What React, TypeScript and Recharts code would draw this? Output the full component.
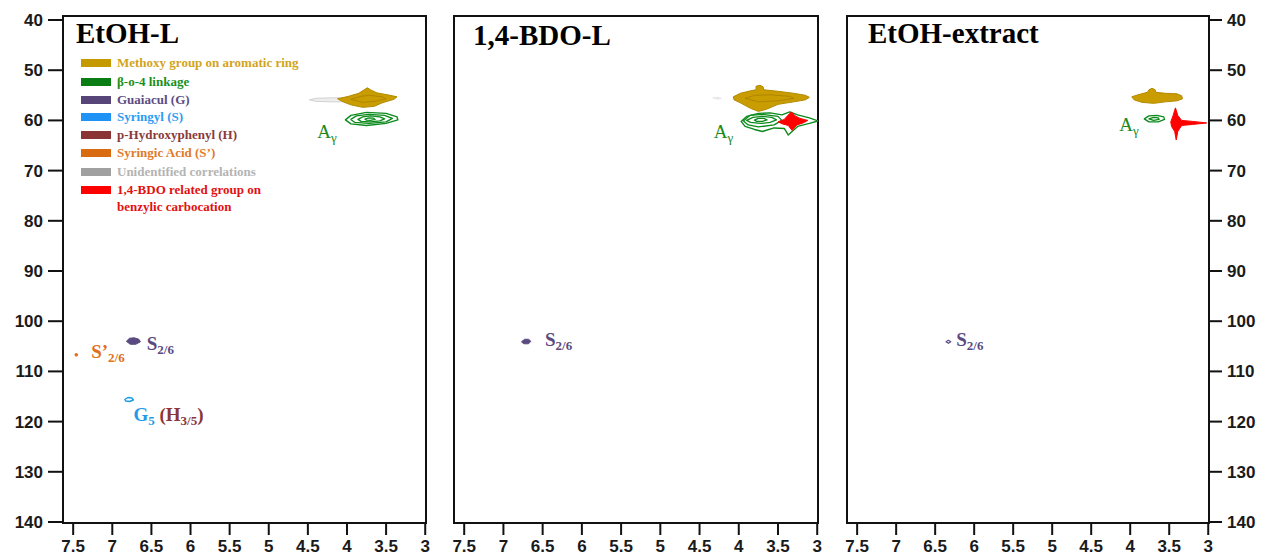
import React from 'react';
import { ScatterChart, Scatter, XAxis, YAxis, ReferenceArea } from 'recharts';

// ---------- axes ----------
const X_TICKS = [7.5, 7, 6.5, 6, 5.5, 5, 4.5, 4, 3.5, 3];
const Y_TICKS = [40, 50, 60, 70, 80, 90, 100, 110, 120, 130, 140];
const X_DOMAIN: [number, number] = [2.99, 7.63];
const Y_DOMAIN: [number, number] = [39.2, 140.2];

// ---------- panel titles ----------
const TITLES = ['EtOH-L', '1,4-BDO-L', 'EtOH-extract'];

// ---------- legend ----------
const LEGEND_LABELS = [
  'Methoxy group on aromatic ring',
  'β-o-4 linkage',
  'Guaiacul (G)',
  'Syringyl (S)',
  'p-Hydroxyphenyl (H)',
  'Syringic Acid (S’)',
  'Unidentified correlations',
  '1,4-BDO related group on|benzylic carbocation',
];

// ---------- cross-peak contours (δH ppm, δC ppm) ----------
type P = { x: number; y: number };
const P1_UNIDENTIFIED: P[] = [
  { x: 4.48, y: 55.9 }, { x: 4.4, y: 55.6 }, { x: 4.2, y: 55.5 }, { x: 4.05, y: 55.5 },
  { x: 4.05, y: 56.3 }, { x: 4.2, y: 56.3 }, { x: 4.4, y: 56.2 },
];
const P1_METHOXY: P[] = [
  { x: 4.12, y: 55.7 }, { x: 3.98, y: 55.2 }, { x: 3.85, y: 54.6 }, { x: 3.78, y: 53.9 },
  { x: 3.74, y: 53.5 }, { x: 3.7, y: 53.9 }, { x: 3.62, y: 54.5 }, { x: 3.45, y: 55.0 },
  { x: 3.36, y: 55.3 }, { x: 3.4, y: 55.8 }, { x: 3.55, y: 56.5 }, { x: 3.65, y: 57.2 },
  { x: 3.8, y: 57.4 }, { x: 3.95, y: 56.9 }, { x: 4.05, y: 56.3 },
];
const P1_METHOXY_IN: P[] = [
  { x: 3.95, y: 55.8 }, { x: 3.82, y: 55.2 }, { x: 3.72, y: 55.0 }, { x: 3.55, y: 55.3 },
  { x: 3.5, y: 55.7 }, { x: 3.65, y: 56.2 }, { x: 3.8, y: 56.4 },
];
const P1_BETA_1: P[] = [
  { x: 4.02, y: 59.9 }, { x: 3.95, y: 59.0 }, { x: 3.75, y: 58.4 }, { x: 3.5, y: 58.6 },
  { x: 3.36, y: 59.3 }, { x: 3.35, y: 59.9 }, { x: 3.5, y: 60.6 }, { x: 3.75, y: 61.0 },
  { x: 3.95, y: 60.7 },
];
const P1_BETA_2: P[] = [
  { x: 3.95, y: 59.8 }, { x: 3.88, y: 59.1 }, { x: 3.72, y: 58.8 }, { x: 3.52, y: 59.0 },
  { x: 3.42, y: 59.6 }, { x: 3.5, y: 60.3 }, { x: 3.72, y: 60.6 }, { x: 3.9, y: 60.4 },
];
const P1_BETA_3: P[] = [
  { x: 3.86, y: 59.8 }, { x: 3.8, y: 59.3 }, { x: 3.7, y: 59.1 }, { x: 3.58, y: 59.3 },
  { x: 3.52, y: 59.7 }, { x: 3.58, y: 60.1 }, { x: 3.7, y: 60.3 }, { x: 3.82, y: 60.2 },
];
const P1_BETA_4: P[] = [
  { x: 3.77, y: 59.75 }, { x: 3.72, y: 59.5 }, { x: 3.66, y: 59.55 }, { x: 3.64, y: 59.8 },
  { x: 3.7, y: 60.0 }, { x: 3.75, y: 59.95 },
];
const P1_S26: P[] = [
  { x: 6.82, y: 104.0 }, { x: 6.78, y: 103.4 }, { x: 6.72, y: 103.3 }, { x: 6.66, y: 103.6 },
  { x: 6.64, y: 104.1 }, { x: 6.7, y: 104.6 }, { x: 6.77, y: 104.6 },
];
const P1_G5: P[] = [
  { x: 6.84, y: 115.6 }, { x: 6.8, y: 115.2 }, { x: 6.75, y: 115.3 }, { x: 6.73, y: 115.7 },
  { x: 6.78, y: 116.0 }, { x: 6.83, y: 115.9 },
];
const P1_ACID: P[] = [{ x: 7.46, y: 106.7 }];

const P2_UNIDENTIFIED: P[] = [
  { x: 4.33, y: 55.5 }, { x: 4.27, y: 55.4 }, { x: 4.22, y: 55.6 }, { x: 4.27, y: 55.8 },
];
const P2_METHOXY: P[] = [
  { x: 4.07, y: 55.3 }, { x: 3.98, y: 54.6 }, { x: 3.85, y: 54.1 }, { x: 3.78, y: 53.9 },
  { x: 3.78, y: 53.2 }, { x: 3.73, y: 53.0 }, { x: 3.69, y: 53.3 }, { x: 3.68, y: 53.9 },
  { x: 3.5, y: 54.2 }, { x: 3.3, y: 54.6 }, { x: 3.15, y: 55.0 }, { x: 3.1, y: 55.4 },
  { x: 3.15, y: 55.9 }, { x: 3.3, y: 56.3 }, { x: 3.5, y: 56.8 }, { x: 3.65, y: 57.8 },
  { x: 3.75, y: 58.2 }, { x: 3.85, y: 57.6 }, { x: 3.98, y: 56.5 }, { x: 4.06, y: 55.9 },
];
const P2_METHOXY_IN: P[] = [
  { x: 3.92, y: 55.6 }, { x: 3.8, y: 55.0 }, { x: 3.6, y: 54.9 }, { x: 3.35, y: 55.2 },
  { x: 3.3, y: 55.6 }, { x: 3.5, y: 56.1 }, { x: 3.75, y: 56.3 },
];
const P2_BETA_1: P[] = [
  { x: 3.97, y: 60.2 }, { x: 3.9, y: 59.2 }, { x: 3.75, y: 58.6 }, { x: 3.6, y: 58.5 },
  { x: 3.45, y: 58.9 }, { x: 3.35, y: 58.3 }, { x: 3.25, y: 58.9 }, { x: 3.1, y: 59.5 },
  { x: 2.99, y: 60.1 }, { x: 3.1, y: 60.6 }, { x: 3.25, y: 61.2 }, { x: 3.37, y: 62.9 },
  { x: 3.42, y: 61.6 }, { x: 3.55, y: 61.5 }, { x: 3.7, y: 62.2 }, { x: 3.8, y: 61.8 },
  { x: 3.92, y: 61.2 },
];
const P2_BETA_2: P[] = [
  { x: 3.9, y: 60.0 }, { x: 3.82, y: 59.4 }, { x: 3.7, y: 59.2 }, { x: 3.58, y: 59.4 },
  { x: 3.52, y: 59.9 }, { x: 3.6, y: 60.4 }, { x: 3.72, y: 60.6 }, { x: 3.85, y: 60.4 },
];
const P2_BETA_3: P[] = [
  { x: 3.8, y: 59.95 }, { x: 3.75, y: 59.6 }, { x: 3.68, y: 59.6 }, { x: 3.64, y: 59.9 },
  { x: 3.7, y: 60.2 }, { x: 3.77, y: 60.2 },
];
const P2_BETA_4: P[] = [
  { x: 3.94, y: 60.1 }, { x: 3.86, y: 59.0 }, { x: 3.7, y: 58.8 }, { x: 3.5, y: 59.2 },
  { x: 3.45, y: 60.0 }, { x: 3.55, y: 60.9 }, { x: 3.75, y: 61.3 }, { x: 3.88, y: 60.9 },
];
const P2_BDO: P[] = [
  { x: 3.5, y: 60.3 }, { x: 3.42, y: 59.8 }, { x: 3.38, y: 59.1 }, { x: 3.33, y: 58.3 },
  { x: 3.28, y: 59.1 }, { x: 3.22, y: 59.6 }, { x: 3.12, y: 60.0 }, { x: 3.18, y: 60.5 },
  { x: 3.26, y: 60.9 }, { x: 3.32, y: 62.0 }, { x: 3.37, y: 61.0 }, { x: 3.44, y: 60.7 },
];
const P2_S26: P[] = [
  { x: 6.77, y: 104.1 }, { x: 6.73, y: 103.6 }, { x: 6.68, y: 103.6 }, { x: 6.65, y: 104.0 },
  { x: 6.68, y: 104.5 }, { x: 6.74, y: 104.5 },
];

const P3_METHOXY: P[] = [
  { x: 3.98, y: 55.3 }, { x: 3.9, y: 54.9 }, { x: 3.78, y: 54.4 }, { x: 3.76, y: 53.9 },
  { x: 3.72, y: 53.6 }, { x: 3.68, y: 53.9 }, { x: 3.67, y: 54.4 }, { x: 3.55, y: 54.6 },
  { x: 3.4, y: 54.7 }, { x: 3.34, y: 55.1 }, { x: 3.33, y: 55.7 }, { x: 3.4, y: 56.1 },
  { x: 3.55, y: 56.3 }, { x: 3.7, y: 56.6 }, { x: 3.85, y: 56.4 }, { x: 3.95, y: 55.9 },
];
const P3_BETA_1: P[] = [
  { x: 3.82, y: 59.7 }, { x: 3.76, y: 59.1 }, { x: 3.66, y: 59.0 }, { x: 3.57, y: 59.3 },
  { x: 3.56, y: 59.8 }, { x: 3.64, y: 60.3 }, { x: 3.76, y: 60.3 },
];
const P3_BETA_2: P[] = [
  { x: 3.76, y: 59.7 }, { x: 3.7, y: 59.4 }, { x: 3.64, y: 59.5 }, { x: 3.63, y: 59.8 },
  { x: 3.7, y: 60.0 },
];
const P3_BDO: P[] = [
  { x: 3.48, y: 60.3 }, { x: 3.45, y: 59.0 }, { x: 3.42, y: 57.5 }, { x: 3.39, y: 59.0 },
  { x: 3.34, y: 60.0 }, { x: 3.2, y: 60.2 }, { x: 3.02, y: 60.5 }, { x: 3.2, y: 60.8 },
  { x: 3.34, y: 61.0 }, { x: 3.39, y: 62.2 }, { x: 3.41, y: 63.9 }, { x: 3.43, y: 62.2 },
  { x: 3.47, y: 61.2 },
];
const P3_S26: P[] = [
  { x: 6.36, y: 104.1 }, { x: 6.33, y: 103.8 }, { x: 6.3, y: 104.1 }, { x: 6.33, y: 104.4 },
];

// ---------- peak labels ----------
type L = { x: number; y: number; kind: string };
const P1_LABELS: L[] = [
  { x: 4.38, y: 63.6, kind: 'A' },
  { x: 6.56, y: 105.8, kind: 'S' },
  { x: 7.27, y: 107.3, kind: 'Sacid' },
  { x: 6.73, y: 119.8, kind: 'G' },
];
const P2_LABELS: L[] = [
  { x: 4.32, y: 63.6, kind: 'A' },
  { x: 6.47, y: 105.0, kind: 'S' },
];
const P3_LABELS: L[] = [
  { x: 4.14, y: 62.2, kind: 'A' },
  { x: 6.23, y: 105.0, kind: 'S' },
];

// ---------- styles ----------
const C = {
  methoxy: '#c99c00',
  methoxyEdge: '#b38a00',
  beta: '#0c8a1c',
  guaiacyl: '#5a4a82',
  syringyl: '#1e9be8',
  hydroxy: '#8b3535',
  acid: '#e07020',
  unid: '#c8c8c8',
  bdo: '#ff0000',
};
const SWATCH = ['#c49a00', '#0a7d14', '#574478', '#1e93f5', '#8a3434', '#d96b10', '#a0a0a0', '#ff0000'];
const LEGEND_TEXT = ['#d2a41c', '#1a8f1a', '#5e4b82', '#2a9df4', '#8b3a3a', '#e07a2a', '#b4b4b4', '#e31010'];

const SERIF = '"Liberation Serif", "Times New Roman", serif';
const SANS = '"Liberation Sans", Arial, sans-serif';

type Blob = { data: P[]; fill: string; stroke: string; sw?: number; op?: number };

const polyLine = (b: Blob) => (props: any) => {
  const pts: { x: number; y: number }[] = props.points || [];
  if (!pts.length) return <g />;
  const d = 'M' + pts.map((p) => `${p.x},${p.y}`).join('L') + 'Z';
  return (
    <path
      d={d}
      fill={b.fill}
      fillOpacity={b.op ?? 1}
      stroke={b.stroke}
      strokeWidth={b.sw ?? 1}
      strokeLinejoin="round"
    />
  );
};

const Empty = () => <g />;

const LabelShape = (props: any) => {
  const { cx, cy, payload } = props;
  if (cx == null || cy == null) return <g />;
  const kind = payload.kind;
  if (kind === 'A') {
    return (
      <text x={cx} y={cy} fontFamily={SERIF} fontSize={19} fill="#1a8a1a">
        A<tspan fontSize={13} dy={4}>γ</tspan>
      </text>
    );
  }
  if (kind === 'S') {
    return (
      <text x={cx} y={cy} fontFamily={SERIF} fontSize={19} fontWeight="bold" fill={C.guaiacyl}>
        S<tspan fontSize={13} dy={4}>2/6</tspan>
      </text>
    );
  }
  if (kind === 'Sacid') {
    return (
      <text x={cx} y={cy} fontFamily={SERIF} fontSize={19} fontWeight="bold" fill={C.acid}>
        S’<tspan fontSize={13} dy={4}>2/6</tspan>
      </text>
    );
  }
  return (
    <text x={cx} y={cy} fontFamily={SERIF} fontSize={19} fontWeight="bold">
      <tspan fill={C.syringyl}>G</tspan>
      <tspan fill={C.syringyl} fontSize={13} dy={4}>5</tspan>
      <tspan fill={C.hydroxy} dy={-4}> (H</tspan>
      <tspan fill={C.hydroxy} fontSize={13} dy={4}>3/5</tspan>
      <tspan fill={C.hydroxy} dy={-4}>)</tspan>
    </text>
  );
};

const DotShape = (props: any) => {
  const { cx, cy } = props;
  if (cx == null) return <g />;
  return <circle cx={cx} cy={cy} r={1.8} fill={C.acid} />;
};

const tickStyle = { fontFamily: SANS, fontSize: 17, fontWeight: 'bold' as const, fill: '#1a1a1a' };

type PanelProps = {
  left: number;
  width: number;
  margin: { top: number; right: number; bottom: number; left: number };
  yAxis: 'left' | 'right' | 'none';
  blobs: Blob[];
  labels: L[];
  dots?: P[];
  title: string;
  titleLeft: number;
  titleTop: number;
};

const Panel = (p: PanelProps) => (
  <div style={{ position: 'absolute', left: p.left, top: 0, width: p.width, height: 558 }}>
    <ScatterChart width={p.width} height={558} margin={p.margin}>
      <XAxis
        type="number"
        dataKey="x"
        domain={X_DOMAIN}
        allowDataOverflow
        reversed
        ticks={X_TICKS}
        interval={0}
        height={35}
        tickSize={12}
        tickMargin={5}
        tick={tickStyle}
        axisLine={{ stroke: '#111', strokeWidth: 2 }}
        tickLine={{ stroke: '#111', strokeWidth: 2 }}
      />
      <YAxis
        type="number"
        dataKey="y"
        domain={Y_DOMAIN}
        allowDataOverflow
        reversed
        ticks={Y_TICKS}
        interval={0}
        hide={p.yAxis === 'none'}
        orientation={p.yAxis === 'right' ? 'right' : 'left'}
        width={p.yAxis === 'right' ? 55 : 63}
        tickSize={p.yAxis === 'right' ? 13 : 15}
        tickMargin={5}
        tick={tickStyle}
        axisLine={{ stroke: '#111', strokeWidth: 2 }}
        tickLine={{ stroke: '#111', strokeWidth: 2 }}
      />
      <ReferenceArea
        x1={X_DOMAIN[0]}
        x2={X_DOMAIN[1]}
        y1={Y_DOMAIN[0]}
        y2={Y_DOMAIN[1]}
        fill="none"
        stroke="#111"
        strokeWidth={2}
        ifOverflow="visible"
      />
      {p.blobs.map((b, i) => (
        <Scatter
          key={i}
          data={b.data}
          isAnimationActive={false}
          shape={Empty}
          line={polyLine(b)}
          lineType="joint"
          fill={b.fill}
        />
      ))}
      {p.dots && (
        <Scatter data={p.dots} isAnimationActive={false} shape={DotShape} fill={C.acid} />
      )}
      <Scatter data={p.labels} isAnimationActive={false} shape={LabelShape} fill="#000" />
    </ScatterChart>
    <div
      style={{
        position: 'absolute',
        left: p.titleLeft,
        top: p.titleTop,
        fontFamily: SERIF,
        fontWeight: 'bold',
        fontSize: 29,
        lineHeight: '29px',
        color: '#000',
        whiteSpace: 'nowrap',
      }}
    >
      {p.title}
    </div>
  </div>
);

const ROW_Y = [63, 82, 100, 117, 135, 153, 172, 190];

const LegendBox = () => (
  <div style={{ position: 'absolute', left: 0, top: 0 }}>
    {LEGEND_LABELS.map((lab, i) => {
      const lines = lab.split('|');
      return (
        <div key={i}>
          <div
            style={{
              position: 'absolute',
              left: 81,
              top: ROW_Y[i] - 4,
              width: 30,
              height: 8,
              background: SWATCH[i],
            }}
          />
          {lines.map((ln, j) => (
            <div
              key={j}
              style={{
                position: 'absolute',
                left: 117,
                top: ROW_Y[i] - 8 + j * 17,
                fontFamily: SERIF,
                fontWeight: 'bold',
                fontSize: 13,
                lineHeight: '16px',
                color: LEGEND_TEXT[i],
                whiteSpace: 'nowrap',
              }}
            >
              {ln}
            </div>
          ))}
        </div>
      );
    })}
  </div>
);

const betaRing = (d: P[]): Blob => ({ data: d, fill: 'none', stroke: C.beta, sw: 1.3 });

export default function App() {
  const p1Blobs: Blob[] = [
    { data: P1_UNIDENTIFIED, fill: '#eeeeee', stroke: C.unid, sw: 0.8 },
    { data: P1_METHOXY, fill: C.methoxy, stroke: C.methoxyEdge, sw: 1 },
    { data: P1_METHOXY_IN, fill: 'none', stroke: '#a88000', sw: 0.8 },
    { data: P1_BETA_1, fill: '#ffffff', stroke: C.beta, sw: 1.4 },
    betaRing(P1_BETA_2),
    betaRing(P1_BETA_3),
    betaRing(P1_BETA_4),
    { data: P1_S26, fill: C.guaiacyl, stroke: C.guaiacyl, sw: 1 },
    { data: P1_G5, fill: 'none', stroke: C.syringyl, sw: 1.4 },
  ];
  const p2Blobs: Blob[] = [
    { data: P2_UNIDENTIFIED, fill: '#eeeeee', stroke: '#dddddd', sw: 0.6 },
    { data: P2_METHOXY, fill: C.methoxy, stroke: C.methoxyEdge, sw: 1 },
    { data: P2_METHOXY_IN, fill: 'none', stroke: '#a88000', sw: 0.8 },
    { data: P2_BETA_1, fill: '#ffffff', stroke: C.beta, sw: 1.4 },
    betaRing(P2_BETA_4),
    betaRing(P2_BETA_2),
    betaRing(P2_BETA_3),
    { data: P2_BDO, fill: C.bdo, stroke: C.bdo, sw: 1 },
    { data: P2_S26, fill: C.guaiacyl, stroke: C.guaiacyl, sw: 1 },
  ];
  const p3Blobs: Blob[] = [
    { data: P3_METHOXY, fill: C.methoxy, stroke: C.methoxyEdge, sw: 1 },
    betaRing(P3_BETA_1),
    betaRing(P3_BETA_2),
    { data: P3_BDO, fill: C.bdo, stroke: C.bdo, sw: 1 },
    { data: P3_S26, fill: 'none', stroke: C.guaiacyl, sw: 1.2 },
  ];
  return (
    <div style={{ position: 'absolute', left: 0, top: 0, width: 1264, height: 558, background: '#fff', overflow: 'hidden' }}>
      <Panel
        left={0}
        width={430}
        margin={{ top: 16, right: 4, bottom: 0, left: 0 }}
        yAxis="left"
        blobs={p1Blobs}
        labels={P1_LABELS}
        dots={P1_ACID}
        title={TITLES[0]}
        titleLeft={76}
        titleTop={19}
      />
      <Panel
        left={440}
        width={390}
        margin={{ top: 16, right: 12, bottom: 0, left: 14 }}
        yAxis="none"
        blobs={p2Blobs}
        labels={P2_LABELS}
        title={TITLES[1]}
        titleLeft={33}
        titleTop={21}
      />
      <Panel
        left={835}
        width={429}
        margin={{ top: 16, right: 0, bottom: 0, left: 12 }}
        yAxis="right"
        blobs={p3Blobs}
        labels={P3_LABELS}
        title={TITLES[2]}
        titleLeft={33}
        titleTop={19}
      />
      <LegendBox />
    </div>
  );
}
